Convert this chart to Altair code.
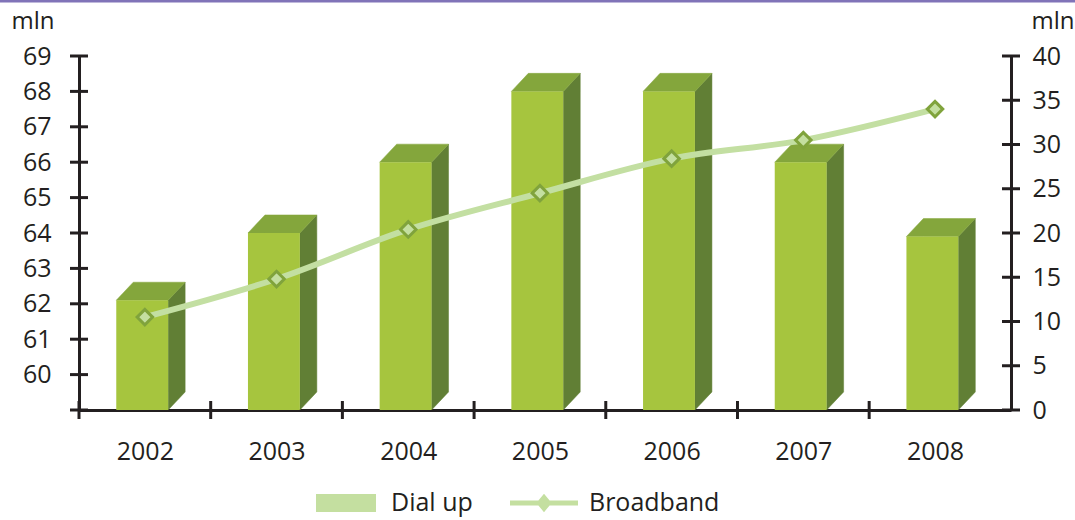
import altair as alt
import pandas as pd

# ---- data ----
years = ["2002", "2003", "2004", "2005", "2006", "2007", "2008"]
dial_up = [62.1, 64.0, 66.0, 68.0, 68.0, 66.0, 63.9]
broadband = [10.5, 14.8, 20.4, 24.5, 28.4, 30.5, 34.0]
left_ticks = list(range(59, 70))
left_labels = list(range(60, 70))
right_ticks = list(range(0, 45, 5))
series = ["Dial up", "Broadband"]

# ---- style ----
FONT = "Open Sans"
FS = 25
INK = "#231f20"
FRONT = "#a6c53e"
TOP = "#84a63c"
SIDE = "#617f35"
LINE = "#c3dfa2"
MARK_STROKE = "#80a33c"
LEG = "#c4dfa0"
W, H = 932, 354
X_MAX = 7.077
BASE = 59
HALF_W = 0.197   # half width of the bar front, in category units
DX = 0.129       # 3-D depth, horizontal (category units)
DY = 0.51        # 3-D depth, vertical (left-axis units)
SHIFT = -0.02

n = len(years)
centers = [i + 0.5 for i in range(n)]

front_df = pd.DataFrame({
    "xl": [c + SHIFT - HALF_W for c in centers],
    "xr": [c + SHIFT + HALF_W for c in centers],
    "v": dial_up,
    "base": [BASE] * n,
})

side_rows, top_rows = [], []
for i, (c, v) in enumerate(zip(centers, dial_up)):
    xl, xr = c + SHIFT - HALF_W, c + SHIFT + HALF_W
    side_rows += [
        {"id": i, "x": xr, "hi": v, "lo": BASE},
        {"id": i, "x": xr + DX, "hi": v + DY, "lo": BASE + DY},
    ]
    top_rows += [
        {"id": i, "x": xl, "hi": v, "lo": v},
        {"id": i, "x": xl + DX, "hi": v + DY, "lo": v},
        {"id": i, "x": xr, "hi": v + DY, "lo": v},
        {"id": i, "x": xr + DX, "hi": v + DY, "lo": v + DY},
    ]
side_df = pd.DataFrame(side_rows)
top_df = pd.DataFrame(top_rows)

line_df = pd.DataFrame({"x": centers, "b": broadband, "year": years})

xs = alt.Scale(domain=[0, X_MAX], nice=False, zero=False)
yl = alt.Scale(domain=[59, 69], nice=False, zero=False)
yr = alt.Scale(domain=[0, 40], nice=False, zero=False)

year_arr = "[" + ",".join("'%s'" % y for y in years) + "]"
x_axis = alt.Axis(values=centers, labelExpr=year_arr + "[floor(datum.value)]",
                  ticks=False, tickSize=0, labelPadding=29, title=None,
                  labelOverlap=False, labelFlush=False,
                  grid=False, domainWidth=3, domainColor=INK)
left_axis = alt.Axis(values=left_labels, orient="left", ticks=False, tickSize=0,
                     labelPadding=28, grid=False, domainWidth=3, domainColor=INK,
                     labelOverlap=False, labelFlush=False,
                     title="mln", titleAngle=0, titleX=-68, titleY=-28,
                     titleAlign="left", titleBaseline="alphabetic")
right_axis = alt.Axis(values=right_ticks, orient="right", ticks=False, tickSize=0,
                      labelPadding=21, grid=False, domainWidth=3, domainColor=INK,
                      labelOverlap=False, labelFlush=False,
                      title="mln", titleAngle=0, titleX=20, titleY=-28,
                      titleAlign="left", titleBaseline="alphabetic")

front = alt.Chart(front_df).mark_rect(color=FRONT).encode(
    x=alt.X("xl:Q", scale=xs, axis=x_axis), x2="xr",
    y=alt.Y("v:Q", scale=yl, axis=left_axis), y2="base")

side = alt.Chart(side_df).mark_area(color=SIDE, stroke=SIDE, strokeWidth=0.5).encode(
    x=alt.X("x:Q", scale=xs, axis=x_axis), y=alt.Y("hi:Q", scale=yl, axis=left_axis),
    y2="lo", detail="id:N")

top = alt.Chart(top_df).mark_area(color=TOP, stroke=TOP, strokeWidth=0.5).encode(
    x=alt.X("x:Q", scale=xs, axis=x_axis), y=alt.Y("hi:Q", scale=yl, axis=left_axis),
    y2="lo", detail="id:N")

lt = alt.Chart(pd.DataFrame({"t": left_ticks})).mark_tick(
    orient="horizontal", size=18, thickness=3, color=INK, opacity=1).encode(
    y=alt.Y("t:Q", scale=yl, axis=left_axis), x=alt.value(0))

xt = alt.Chart(pd.DataFrame({"t": list(range(0, n))})).mark_tick(
    orient="vertical", size=18, thickness=3, color=INK, opacity=1).encode(
    x=alt.X("t:Q", scale=xs, axis=x_axis), y=alt.value(H))

bars = alt.layer(side, top, front, lt, xt)

line = alt.Chart(line_df).mark_line(color=LINE, strokeWidth=6, interpolate="monotone").encode(
    x=alt.X("x:Q", scale=xs, axis=x_axis), y=alt.Y("b:Q", scale=yr, axis=right_axis))

pts = alt.Chart(line_df).mark_point(shape="diamond", filled=True, fill=LEG,
                                    stroke=MARK_STROKE, strokeWidth=3, size=240,
                                    opacity=1).encode(
    x=alt.X("x:Q", scale=xs, axis=x_axis), y=alt.Y("b:Q", scale=yr, axis=right_axis))

rt = alt.Chart(pd.DataFrame({"t": right_ticks})).mark_tick(
    orient="horizontal", size=18, thickness=3, color=INK, opacity=1).encode(
    y=alt.Y("t:Q", scale=yr, axis=right_axis), x=alt.value(W))

rect_path = "M-1.5,-0.45L1.5,-0.45L1.5,0.45L-1.5,0.45Z"
bb_path = ("M-1.7,-0.12L-0.28,-0.12L0,-0.46L0.28,-0.12L1.7,-0.12L1.7,0.12"
           "L0.28,0.12L0,0.46L-0.28,0.12L-1.7,0.12Z")
legend = alt.Chart(pd.DataFrame({"s": series})).mark_point(
    filled=True, color=LEG, size=0).encode(
    x=alt.value(0), y=alt.value(0),
    shape=alt.Shape("s:N", scale=alt.Scale(domain=series, range=[rect_path, bb_path]),
                    legend=alt.Legend(orient="none", legendX=247, legendY=427,
                                      direction="horizontal", title=None,
                                      symbolSize=1600, symbolFillColor=LEG,
                                      symbolStrokeWidth=0, symbolOpacity=1,
                                      labelFont=FONT, labelFontSize=FS,
                                      labelColor=INK, labelOffset=25,
                                      columnPadding=37, padding=0)))

topline = alt.Chart(pd.DataFrame({"a": [0]})).mark_rule(
    color="#8073b8", strokeWidth=3).encode(
    x=alt.value(-79), x2=alt.value(1075 - 79), y=alt.value(-55))

lines = alt.layer(line, pts, rt, legend)

chart = alt.layer(bars, lines, topline).resolve_scale(y="independent").properties(
    width=W, height=H,
    autosize=alt.AutoSizeParams(type="none"),
    padding={"left": 79, "top": 56, "right": 1075 - 79 - W, "bottom": 520 - 56 - H},
).configure_view(stroke=None).configure_axis(
    labelFont=FONT, labelFontSize=FS, labelColor=INK,
    titleFont=FONT, titleFontSize=24, titleColor=INK, titleFontWeight="normal",
)

chart.save("out.html", embed_options={"renderer": "svg", "actions": False})
